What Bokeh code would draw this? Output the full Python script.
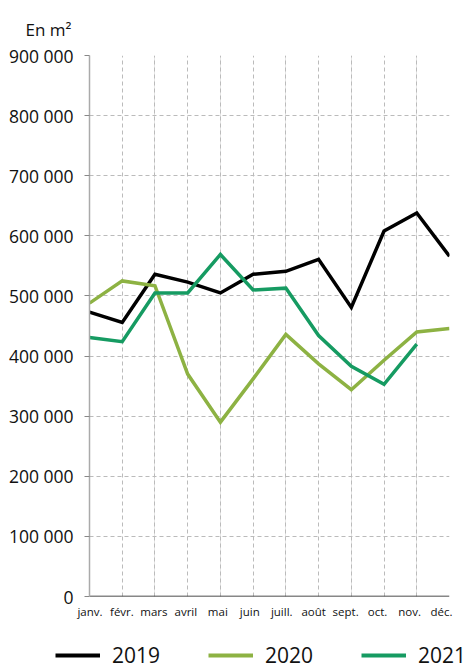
from bokeh.plotting import figure
from bokeh.layouts import column
from bokeh.models import (Range1d, LinearAxis, FixedTicker, Grid, Legend, LegendItem,
                          Title, CustomJSTickFormatter)
from bokeh.embed import file_html
from bokeh.resources import INLINE

months = ["janv.", "févr.", "mars", "avril", "mai", "juin", "juill.", "août",
          "sept.", "oct.", "nov.", "déc."]
v2019 = [473000, 456000, 536000, 523000, 505000, 536000, 541000, 561000, 481000, 608000, 638000, 566000]
v2020 = [488000, 525000, 517000, 370000, 290000, 362000, 436000, 387000, 344000, 393000, 440000, 446000]
v2021 = [431000, 424000, 505000, 505000, 569000, 510000, 513000, 434000, 383000, 353000, 420000]
y_ticks = [0, 100000, 200000, 300000, 400000, 500000, 600000, 700000, 800000, 900000]
years = ["2019", "2020", "2021"]

FONT = "Open Sans"
COLORS = ["#000000", "#8DB243", "#169B62"]
series = [v2019, v2020, v2021]

p = figure(width=465, height=624, output_backend="svg", toolbar_location=None,
           x_range=Range1d(0, 11), y_range=Range1d(0, 900000),
           x_axis_location=None, y_axis_location="left",
           min_border_left=89, min_border_right=16, min_border_top=55, min_border_bottom=28)
p.outline_line_color = None
p.background_fill_color = "white"
p.frame_align = False

p.title = Title(text="En m²", align="left", offset=-64, standoff=30,
                text_font=FONT, text_font_size="17px", text_font_style="normal",
                text_color="#111111")

# y axis
ya = p.yaxis[0]
ya.ticker = FixedTicker(ticks=y_ticks)
ya.formatter = CustomJSTickFormatter(code="""
    if (tick == 0) return '0';
    const s = Math.round(tick).toString();
    return s.replace(/\\B(?=(\\d{3})+(?!\\d))/g, ' ');
""")
ya.axis_line_color = "#aaaaaa"
ya.axis_line_width = 1.5
ya.major_tick_line_color = "#888888"
ya.major_tick_out = 5
ya.major_tick_in = 0
ya.minor_tick_line_color = None
ya.major_label_text_font = FONT
ya.major_label_text_font_size = "17.5px"
ya.major_label_text_color = "#111111"
ya.major_label_standoff = 11
p.ygrid.ticker = FixedTicker(ticks=y_ticks[1:])
p.ygrid.grid_line_color = "#bbbbbb"
p.ygrid.grid_line_dash = "4 3"
p.ygrid.grid_line_width = 1

# vertical grid
xg = Grid(dimension=0, ticker=FixedTicker(ticks=list(range(1, 12))),
          grid_line_color="#bbbbbb", grid_line_dash="4 3", grid_line_width=1)
p.add_layout(xg)

# x label axis (slightly shifted range to match label positions)
p.extra_x_ranges = {"lab": Range1d(-0.0156, 11.25)}
xa = LinearAxis(x_range_name="lab", ticker=FixedTicker(ticks=list(range(12))),
                major_label_overrides={i: m for i, m in enumerate(months)})
xa.axis_line_color = None
xa.major_tick_line_color = None
xa.minor_tick_line_color = None
xa.major_label_text_font = FONT
xa.major_label_text_font_size = "11.5px"
xa.major_label_text_color = "#111111"
xa.major_label_standoff = 1
p.add_layout(xa, "below")

# black baseline
p.segment(x0=[0], y0=[0], x1=[11], y1=[0], line_color="#111111", line_width=1.5)

x = list(range(12))
for vals, col in zip(series, COLORS):
    p.line(x[:len(vals)], vals, line_color=col, line_width=3.5, line_join="miter")

# legend strip (its series lie outside its tiny ranges, only the legend shows)
leg = figure(width=465, height=45, output_backend="svg", toolbar_location=None,
             x_range=Range1d(0, 1), y_range=Range1d(0, 1),
             x_axis_location=None, y_axis_location=None,
             min_border=0, min_border_left=0, min_border_right=0,
             min_border_top=0, min_border_bottom=0)
leg.frame_align = False
leg.outline_line_color = None
leg.xgrid.visible = False
leg.ygrid.visible = False
items = []
for yr, vals, col in zip(years, series, COLORS):
    r = leg.line(x[:len(vals)], vals, line_color=col, line_width=4)
    items.append(LegendItem(label=yr, renderers=[r]))
legend = Legend(items=items, orientation="horizontal", location=(55, 0),
                glyph_width=45, glyph_height=20, label_standoff=12, spacing=48,
                padding=0, margin=0, border_line_color=None, background_fill_alpha=0,
                label_text_font=FONT, label_text_font_size="21px", label_text_color="#111111")
leg.add_layout(legend, "center")

layout = column(p, leg, spacing=0)
open("out.html", "w").write(file_html(layout, INLINE))
